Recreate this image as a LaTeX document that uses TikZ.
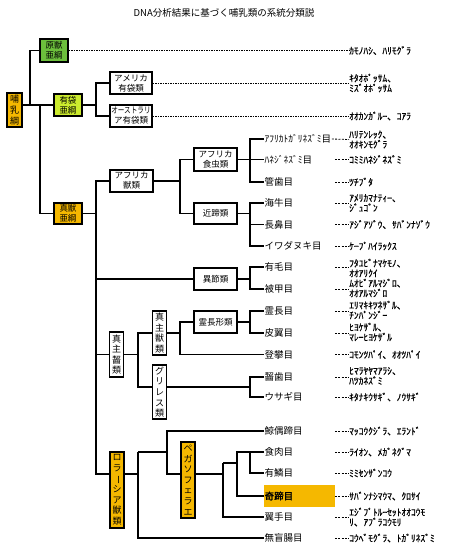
\documentclass[tikz,border=0pt]{standalone}
\usepackage{fontspec}
\setmainfont{Noto Sans CJK JP}[AutoFakeBold=2]
\newfontfamily\spfont{Noto Sans CJK JP}[FakeBold=0.6]
\definecolor{orgY}{HTML}{F5B800}
\definecolor{grn}{HTML}{6CBF3C}
\definecolor{ygrn}{HTML}{CCEB2E}
\newcommand{\tatebo}{\rotatebox[origin=c]{-90}{ー}}
\tikzset{
  conn/.style={line width=1.1pt, black},
  ldash/.style={line width=0.8pt, dash pattern=on 1.6pt off 0.9pt},
  sdash/.style={line width=0.8pt, dash pattern=on 2pt off 1.3pt},
  hbox/.style={draw, line width=1.1pt, fill=white, inner sep=0pt, align=center,
    minimum width=43pt, minimum height=22pt, font=\fontsize{8.5}{10}\selectfont},
  vbox/.style={draw, line width=1.1pt, fill=white, inner sep=0pt, align=center,
    minimum width=14.5pt, font=\fontsize{9}{10.6}\selectfont},
  ord/.style={anchor=west, inner sep=0.5pt, font=\fontsize{9.5}{11}\selectfont},
  spc/.style={anchor=west, inner sep=0pt, align=left, font=\spfont\fontsize{9.5}{10}\selectfont},
}
\begin{document}
\begin{tikzpicture}[x=1pt,y=-1pt]
\useasboundingbox[fill=white] (0,0) rectangle (450,560);
\node[font=\fontsize{9.5}{11}\selectfont] (title) at (224,13) {DNA分析結果に基づく哺乳類の系統分類説};

% ---------- boxes ----------
\node[vbox, fill=orgY, line width=1.8pt, minimum height=34pt, minimum width=15pt] (root) at (14.5,110) {哺\\乳\\綱};
\node[hbox, fill=grn, minimum width=28pt, minimum height=23pt] (genju) at (54,50.5) {原獣\\亜綱};
\node[hbox, fill=ygrn, minimum width=28pt, minimum height=22pt] (yutai) at (68,105) {有袋\\亜綱};
\node[hbox, fill=orgY, minimum width=28pt, minimum height=21pt] (shinju) at (68,213.5) {真獣\\亜綱};
\node[hbox, minimum width=42pt] (amyu) at (131,83) {アメリカ\\有袋類};
\node[hbox, minimum width=42pt] (auyu) at (131,116) {\scalebox{0.78}[1]{オーストラリ}\\ア有袋類};
\node[hbox] (afju) at (131.5,181) {アフリカ\\獣類};
\node[hbox, minimum height=23pt] (afsh) at (215.5,159.5) {アフリカ\\食虫類};
\node[hbox, minimum height=21pt] (kintei) at (215.5,213.5) {近蹄類};
\node[hbox] (isetsu) at (215.5,279) {異節類};
\node[hbox] (reicho) at (215.5,322) {霊長形類};
\node[vbox, minimum height=45pt] (sgetsu) at (116.5,354.5) {真\\主\\齧\\類};
\node[vbox, minimum height=44pt] (sju) at (159.5,333) {真\\主\\獣\\類};
\node[vbox, minimum height=54pt] (guri) at (159.5,392) {グ\\リ\\レ\\ス\\類};
\node[vbox, fill=orgY, minimum height=76pt, minimum width=14pt] (lora) at (117,490) {ロ\\ラ\\\tatebo\\シ\\ア\\獣\\類};
\node[vbox, fill=orgY, minimum height=76pt, minimum width=14pt] (pega) at (188,480) {ペ\\ガ\\ソ\\フ\\ェ\\ラ\\エ};

% ---------- orders ----------
\node[ord] (o1) at (264,139) {ｱﾌﾘｶﾄｶﾞﾘﾈｽﾞﾐ目};
\node[ord] (o2) at (264,159.5) {ﾊﾈｼﾞﾈｽﾞﾐ目};
\node[ord] (o3) at (264,182) {管歯目};
\node[ord] (o4) at (264,203) {海牛目};
\node[ord] (o5) at (264,224.5) {長鼻目};
\node[ord] (o6) at (264,246) {イワダヌキ目};
\node[ord] (o7) at (264,267) {有毛目};
\node[ord] (o8) at (264,289) {被甲目};
\node[ord] (o9) at (264,311) {霊長目};
\node[ord] (o10) at (264,333) {皮翼目};
\node[ord] (o11) at (264,354.5) {登攀目};
\node[ord] (o12) at (264,377) {齧歯目};
\node[ord] (o13) at (264,397) {ウサギ目};
\node[ord] (o14) at (264,431) {鯨偶蹄目};
\node[ord] (o15) at (264,452) {食肉目};
\node[ord] (o16) at (264,473) {有鱗目};
\node[fill=orgY, anchor=west, minimum width=71pt, minimum height=22pt, inner sep=0pt] (hl) at (264,496) {};
\node[ord, font=\fontsize{9.5}{11}\selectfont\bfseries] (o17) at (264,496) {奇蹄目};
\node[ord] (o18) at (264,517) {翼手目};
\node[ord] (o19) at (264,538) {無盲腸目};

% ---------- species ----------
\node[spc] (s0) at (349,50.5) {ｶﾓﾉﾊｼ、ﾊﾘﾓｸﾞﾗ};
\node[spc] (sa) at (349,83) {ｷﾀｵﾎﾟｯｻﾑ、\\ﾐｽﾞｵﾎﾟｯｻﾑ};
\node[spc] (sb) at (349,116) {ｵｵｶﾝｶﾞﾙｰ、ｺｱﾗ};
\node[spc] (s1) at (349,139.5) {ﾊﾘﾃﾝﾚｯｸ、\\ｵｵｷﾝﾓｸﾞﾗ};
\node[spc] (s2) at (349,159.5) {ｺﾐﾐﾊﾈｼﾞﾈｽﾞﾐ};
\node[spc] (s3) at (349,182) {ﾂﾁﾌﾞﾀ};
\node[spc] (s4) at (349,203) {ｱﾒﾘｶﾏﾅﾃｨｰ、\\ｼﾞｭｺﾞﾝ};
\node[spc] (s5) at (349,224.5) {ｱｼﾞｱｿﾞｳ、ｻﾊﾞﾝﾅｿﾞｳ};
\node[spc] (s6) at (349,246) {ｹｰﾌﾟﾊｲﾗｯｸｽ};
\node[spc] (s7) at (349,268) {ﾌﾀﾕﾋﾞﾅﾏｹﾓﾉ、\\ｵｵｱﾘｸｲ};
\node[spc] (s8) at (349,288) {ﾑｵﾋﾞｱﾙﾏｼﾞﾛ、\\ｵｵｱﾙﾏｼﾞﾛ};
\node[spc] (s9) at (349,310) {ｴﾘﾏｷｷﾂﾈｻﾞﾙ、\\ﾁﾝﾊﾟﾝｼﾞｰ};
\node[spc] (s10) at (349,332) {ﾋﾖｹｻﾞﾙ、\\ﾏﾚｰﾋﾖｹｻﾞﾙ};
\node[spc] (s11) at (349,354.5) {ｺﾓﾝﾂﾊﾟｲ、ｵｵﾂﾊﾟｲ};
\node[spc] (s12) at (349,376) {ﾋﾏﾗﾔﾔﾏｱﾗｼ、\\ﾊﾂｶﾈｽﾞﾐ};
\node[spc] (s13) at (349,397) {ｷﾀﾅｷｳｻｷﾞ、ﾉｳｻｷﾞ};
\node[spc] (s14) at (349,431) {ﾏｯｺｳｸｼﾞﾗ、ｴﾗﾝﾄﾞ};
\node[spc] (s15) at (349,452) {ﾗｲｵﾝ、ﾒｶﾞﾈｸﾞﾏ};
\node[spc] (s16) at (349,473) {ﾐﾐｾﾝｻﾞﾝｺｳ};
\node[spc] (s17) at (349,496) {ｻﾊﾞﾝﾅｼﾏｳﾏ、ｸﾛｻｲ};
\node[spc] (s18) at (349,517) {ｴｼﾞﾌﾟﾄﾙｰｾｯﾄｵｵｺｳﾓ\\ﾘ、ｱﾌﾞﾗｺｳﾓﾘ};
\node[spc] (s19) at (349,538) {ｺｳﾍﾞﾓｸﾞﾗ、ﾄｶﾞﾘﾈｽﾞﾐ};

% ---------- junction points ----------
\coordinate (rj) at (30,105);
\coordinate (rj2) at (40,105);
\coordinate (yj) at (96,105);
\coordinate (sp) at (96,474);
\coordinate (aj) at (180,181);
\coordinate (b1) at (250,159.5);
\coordinate (b2) at (250,213.5);
\coordinate (b3) at (250,279);
\coordinate (gj) at (138,354.5);
\coordinate (yG) at (0,387);
\coordinate (sj) at (180,333);
\coordinate (b6) at (250,322);
\coordinate (b7) at (250,387);
\coordinate (lj) at (138,474);
\coordinate (lt) at (138,452);
\coordinate (pj) at (167,452);
\coordinate (qj) at (223,474);
\coordinate (qt) at (223,463);
\coordinate (rj3) at (237,463);
\coordinate (b8) at (250,452);

% ---------- connectors ----------
\draw[conn] (root.east |- yutai.west) -- (yutai.west);
\draw[conn] (genju.west) -| (rj);
\draw[conn] (rj2) |- (shinju.west);
\draw[conn] (yutai.east) -- (yj);
\draw[conn] (amyu.west) -| (yj) |- (auyu.west);
\draw[conn] (shinju.east) -- (shinju.east -| sp);
\draw[conn] (afju.west) -| (sp) -- (lora.west |- sp);
\draw[conn] (isetsu.west) -- (isetsu.west -| sp);
\draw[conn] (sgetsu.west) -- (sgetsu.west -| sp);
\draw[conn] (afju.east) -- (aj);
\draw[conn] (afsh.west) -| (aj) |- (kintei.west);
\draw[conn] (afsh.east) -- (o2.west);
\draw[conn] (o1.west) -| (b1) |- (o3.west);
\draw[conn] (kintei.east) -- (b2);
\draw[conn] (o4.west) -| (b2) |- (o6.west);
\draw[conn] (b2 |- o5.west) -- (o5.west);
\draw[conn] (isetsu.east) -- (b3);
\draw[conn] (o7.west) -| (b3) |- (o8.west);
\draw[conn] (sgetsu.east) -- (gj);
\draw[conn] (sju.west) -| (gj) |- (guri.west |- yG);
\draw[conn] (sju.east) -- (sj);
\draw[conn] (reicho.west) -| (sj) |- (o11.west);
\draw[conn] (reicho.east) -- (b6);
\draw[conn] (o9.west) -| (b6) |- (o10.west);
\draw[conn] (guri.east |- yG) -- (b7);
\draw[conn] (o12.west) -| (b7) |- (o13.west);
\draw[conn] (lora.east |- sp) -- (lj);
\draw[conn] (lt) |- (o19.west);
\draw[conn] (lt) -- (pj);
\draw[conn] (o14.west) -| (pj) |- (pega.west |- sp);
\draw[conn] (pega.east |- sp) -- (qj);
\draw[conn] (qt) |- (o18.west);
\draw[conn] (qt) -- (rj3);
\draw[conn] (o15.west) -| (rj3) |- (hl.west);
\draw[conn] (b8) |- (o16.west);

% ---------- dashed leaders ----------
\draw[ldash] (genju.east) -- (s0.west);
\draw[ldash] (amyu.east) -- (sa.west);
\draw[ldash] (auyu.east) -- (sb.west);
\draw[sdash] (o1.east) -- (s1.west);
\foreach \s/\o in {s2/o2,s3/o3,s4/o4,s5/o5,s6/o6,s11/o11,s13/o13,s14/o14,s15/o15,s16/o16,s17/o17,s19/o19}
  \draw[sdash] ([xshift=-14pt]\s.west) -- (\s.west);
\foreach \s/\o in {s7/o7,s8/o8,s9/o9,s10/o10,s12/o12,s18/o18}
  \draw[sdash] ([xshift=-14pt]\o.west -| \s.west) -- (\o.west -| \s.west);
\end{tikzpicture}
\end{document}
